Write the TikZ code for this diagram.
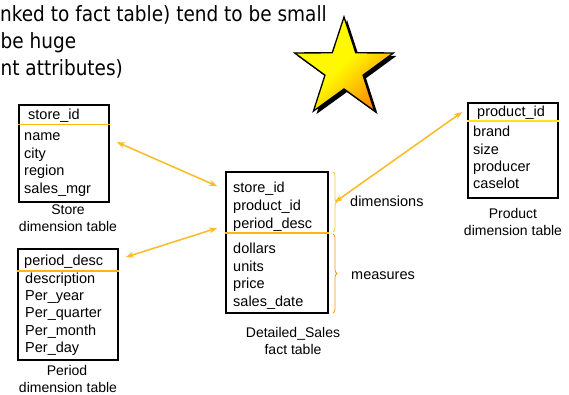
\documentclass[tikz,border=0pt]{standalone}
\usepackage{fontspec}
\setmainfont{Liberation Sans}
\newfontfamily\headfont{DejaVu Sans}
\usetikzlibrary{arrows.meta,calc,decorations.pathreplacing}
\definecolor{arr}{RGB}{252,186,36}
\definecolor{keyline}{RGB}{255,180,20}
\definecolor{keyyellow}{RGB}{255,228,20}
\definecolor{bracelight}{RGB}{255,200,60}
\definecolor{bracedark}{RGB}{255,150,30}
\definecolor{staryellow}{RGB}{255,248,0}
\definecolor{starorange}{RGB}{255,140,0}
\begin{document}
\begin{tikzpicture}[x=1pt,y=-1pt,
  tbl/.style={draw=black,line width=1.8pt,inner sep=0pt,fill=white},
  row/.style={anchor=base west,inner sep=0pt,font=\fontsize{14.5}{17}\selectfont},
  tcaption/.style={anchor=base,inner sep=0pt,font=\fontsize{14}{17}\selectfont},
  headtext/.style={inner sep=0pt,font=\headfont\fontsize{21}{25}\selectfont,xscale=0.88,transform shape},
  keysep/.style={line width=1.6pt},
  link/.style={draw=arr,line width=1.5pt,{Stealth[length=8pt,width=6pt]}-{Stealth[length=8pt,width=6pt]}},
  brc/.style={decorate,decoration={brace,amplitude=4pt},line width=0.8pt}
]
\clip (0,0) rectangle (569,395);
\fill[white] (0,0) rectangle (569,395);

% heading text (cut off at the left in the source)
\node[headtext,anchor=base east] (h1) at (327,22) {nked to fact table) tend to be small};
\node[headtext,anchor=base west] (h2) at (0.5,49) {be huge};
\node[headtext,anchor=base west] (h3) at (0.5,76) {nt attributes)};

% star with shadow
\coordinate (sc) at (347,72);
\fill[black] ($(sc)+(-90:52)$)
  -- ($(sc)+(-54:20)$) -- ($(sc)+(-18:52)$) -- ($(sc)+(18:20)$) -- ($(sc)+(54:52)$)
  -- ($(sc)+(90:20)$) -- ($(sc)+(126:52)$) -- ($(sc)+(162:20)$) -- ($(sc)+(198:52)$)
  -- ($(sc)+(234:20)$) -- cycle;
\coordinate (st) at (344,69);
\draw[line width=1.3pt,top color=staryellow,bottom color=starorange,middle color=staryellow,shading angle=45]
  ($(st)+(-90:52)$)
  -- ($(st)+(-54:20)$) -- ($(st)+(-18:52)$) -- ($(st)+(18:20)$) -- ($(st)+(54:52)$)
  -- ($(st)+(90:20)$) -- ($(st)+(126:52)$) -- ($(st)+(162:20)$) -- ($(st)+(198:52)$)
  -- ($(st)+(234:20)$) -- cycle;

% Store dimension table
\node[tbl,minimum width=90pt,minimum height=97pt] (store) at (64,153.5) {};
\draw[keysep,keyline] (store.north west |- 0,124.5) -- (store.north east |- 0,124.5);
\node[row] (s0) at (28,120) {store\_id};
\node[row] (s1) at (24,141) {name};
\node[row] (s2) at (24,158.5) {city};
\node[row] (s3) at (24,176) {region};
\node[row] (s4) at (24,193.5) {sales\_mgr};
\node[tcaption] (sc1) at (68,214) {Store};
\node[tcaption] (sc2) at (68,231.5) {dimension table};

% Period dimension table
\node[tbl,minimum width=100pt,minimum height=111pt] (period) at (68,304.5) {};
\draw[keysep,keyline] (period.north west |- 0,271) -- (period.north east |- 0,271);
\node[row] (p0) at (24,265) {period\_desc};
\node[row] (p1) at (25,283) {description};
\node[row] (p2) at (25,300) {Per\_year};
\node[row] (p3) at (25,317.5) {Per\_quarter};
\node[row] (p4) at (25,335) {Per\_month};
\node[row] (p5) at (25,352.5) {Per\_day};
\node[tcaption] (pc1) at (67,375) {Period};
\node[tcaption] (pc2) at (68,392) {dimension table};

% Fact table
\node[tbl,minimum width=102pt,minimum height=141pt] (fact) at (277,242.5) {};
\draw[keysep,keyline] (fact.north west |- 0,233) -- (fact.north east |- 0,233);
\node[row] (f0) at (233,193) {store\_id};
\node[row] (f1) at (233,210.5) {product\_id};
\node[row] (f2) at (233,228) {period\_desc};
\node[row] (f3) at (233,253) {dollars};
\node[row] (f4) at (233,271) {units};
\node[row] (f5) at (233,288.5) {price};
\node[row] (f6) at (233,306) {sales\_date};
\node[tcaption] (fc1) at (293,337) {Detailed\_Sales};
\node[tcaption] (fc2) at (293,354) {fact table};

% braces
\draw[brc,bracelight] (333,172) -- (333,232);
\draw[brc,bracedark] (333,234) -- (333,313);
\node[row] (dim) at (350,206) {dimensions};
\node[row] (mea) at (351,279) {measures};

% Product dimension table
\node[tbl,minimum width=90pt,minimum height=95pt] (product) at (513,150.5) {};
\draw[keysep,keyyellow] (product.north west |- 0,121) -- (product.north east |- 0,121);
\node[row] (r0) at (477,116.5) {product\_id};
\node[row] (r1) at (473,137) {brand};
\node[row] (r2) at (473,154.5) {size};
\node[row] (r3) at (473,172) {producer};
\node[row] (r4) at (473,189) {caselot};
\node[tcaption] (rc1) at (513,218) {Product};
\node[tcaption] (rc2) at (513,235) {dimension table};

% connectors
\coordinate (sA) at ($(store.north east)+(7,38)$);
\coordinate (fA) at ($(fact.north west)+(-8,15)$);
\coordinate (pA) at ($(period.north east)+(7,9)$);
\coordinate (fB) at ($(fact.north west)+(-8,57)$);
\coordinate (fC) at ($(fact.north east)+(6,31)$);
\coordinate (rA) at ($(product.north west)+(-5,10)$);
\draw[link] (sA) -- (fA);
\draw[link] (pA) -- (fB);
\draw[link] (fC) -- (rA);
\end{tikzpicture}
\end{document}
